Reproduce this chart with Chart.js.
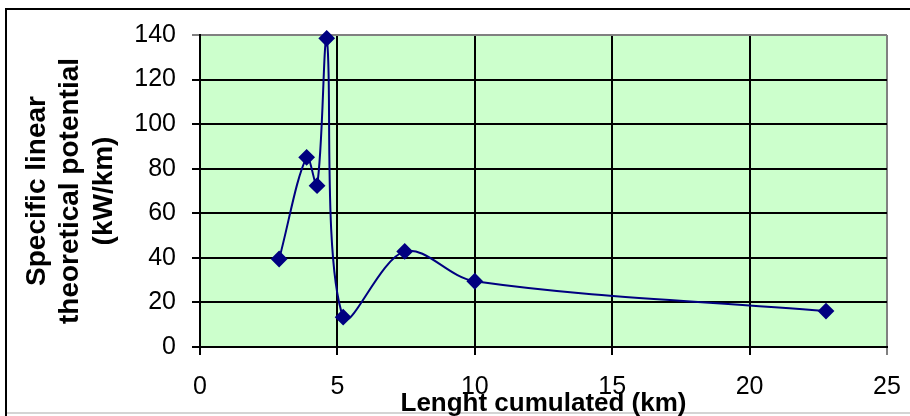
<!DOCTYPE html>
<html>

<head>
  <script src="https://cdn.jsdelivr.net/npm/chart.js@4/dist/chart.umd.min.js"></script>
  <style>
    body { margin: 0; background: #fff; }
  </style>
</head>

<body>
  <div style="position: relative; width:910px; height:416px">
    <canvas id="myChart" width="910" height="416"></canvas>
  </div>
  <script type="text/javascript">
    // data
    var lengthKm = [2.88, 3.88, 4.26, 4.61, 5.21, 7.45, 10.0, 22.78];
    var potential = [39.5, 85.1, 72.4, 138.5, 13.4, 42.9, 29.5, 16.1];
    var xTicks = [0, 5, 10, 15, 20, 25];
    var yTicks = [0, 20, 40, 60, 80, 100, 120, 140];
    var xTitle = 'Lenght cumulated (km)';
    var yTitle = ['Specific linear', 'theoretical potential', '(kW/km)'];

    var points = lengthKm.map(function(x, i) { return { x: x, y: potential[i] }; });

    // outer frame + green plot background
    var framePlugin = {
      id: 'frame',
      beforeDraw: function(chart) {
        var c = chart.ctx, a = chart.chartArea;
        c.save();
        c.fillStyle = '#ffffff';
        c.fillRect(0, 0, chart.width, chart.height);
        c.strokeStyle = '#d4d4d4';
        c.lineWidth = 2;
        c.beginPath();
        c.moveTo(6, 413);
        c.lineTo(chart.width, 413);
        c.stroke();
        c.strokeStyle = '#000000';
        c.beginPath();
        c.moveTo(6, chart.height);
        c.lineTo(6, 9);
        c.lineTo(chart.width, 9);
        c.stroke();
        c.fillStyle = '#ccffcc';
        c.fillRect(a.left, a.top, a.right - a.left, a.bottom - a.top);
        c.restore();
      }
    };

    var ctx = document.getElementById('myChart').getContext('2d');
    var chart = new Chart(ctx, {
      type: 'scatter',
      data: {
        datasets: [{
          label: 'potential',
          data: points,
          showLine: true,
          borderColor: '#000080',
          backgroundColor: '#000080',
          borderWidth: 2,
          tension: 0.35,
          pointStyle: 'rectRot',
          pointRadius: 7,
          pointHoverRadius: 7,
          clip: false
        }]
      },
      options: {
        responsive: false,
        animation: false,
        events: [],
        layout: { padding: { left: 0, right: 23, top: 35, bottom: 0 } },
        plugins: {
          legend: { display: false },
          tooltip: { enabled: false }
        },
        scales: {
          x: {
            type: 'linear',
            min: 0,
            max: 25,
            afterBuildTicks: function(s) { s.ticks = xTicks.map(function(v) { return { value: v }; }); },
            afterFit: function(s) { s.height = 69; s.paddingLeft = 0; s.paddingRight = 0; },
            ticks: {
              color: '#000',
              font: { family: "'Liberation Sans', Arial", size: 25 },
              padding: 17,
              maxRotation: 0
            },
            grid: {
              color: function(c) { return c.tick && c.tick.value === 25 ? '#808080' : '#000'; },
              lineWidth: 2,
              tickLength: 8
            },
            border: { color: '#000', width: 2 },
            title: {
              display: true,
              text: xTitle,
              color: '#000',
              font: { family: "'Liberation Sans', Arial", size: 26, weight: 'bold' },
              padding: { top: 0, bottom: -3 }
            }
          },
          y: {
            type: 'linear',
            min: 0,
            max: 140,
            afterBuildTicks: function(s) { s.ticks = yTicks.map(function(v) { return { value: v }; }); },
            afterFit: function(s) { s.width = 200; s.paddingTop = 0; s.paddingBottom = 0; },
            ticks: {
              color: '#000',
              font: { family: "'Liberation Sans', Arial", size: 25 },
              padding: 16
            },
            grid: {
              color: function(c) { return c.tick && c.tick.value === 140 ? '#808080' : '#000'; },
              lineWidth: 2,
              tickLength: 8
            },
            border: { color: '#000', width: 2 },
            title: {
              display: true,
              text: yTitle,
              color: '#000',
              font: { family: "'Liberation Sans', Arial", size: 28, weight: 'bold', lineHeight: 1.2 },
              padding: { top: 20, bottom: 0 }
            }
          }
        }
      },
      plugins: [framePlugin]
    });
  </script>
</body>

</html>
